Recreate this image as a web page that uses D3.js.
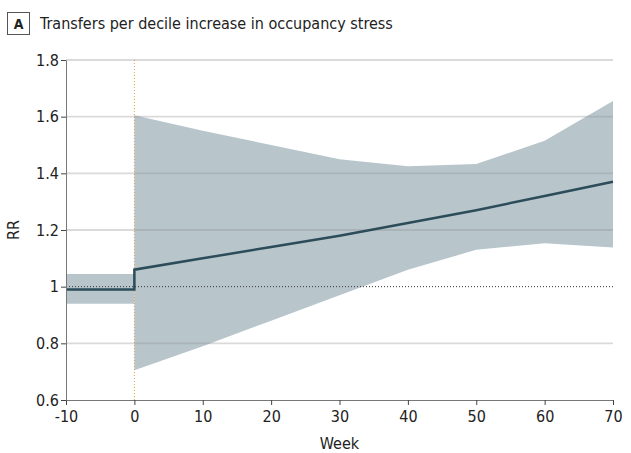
<!DOCTYPE html>
<html>
<head>
<meta charset="utf-8">
<script src="https://cdn.jsdelivr.net/npm/d3@7"></script>
<style>
  body { margin: 0; background: #fff; }
  text { font-family: "DejaVu Sans Condensed", "Open Sans", sans-serif; fill: #222; }
</style>
</head>
<body>
<div id="chart"></div>
<script>
// data
var preWeeks = [-10, 0];
var preRR = [0.99, 0.99];
var preLower = [0.94, 0.94];
var preUpper = [1.045, 1.045];

var postWeeks = [0, 10, 20, 30, 40, 50, 60, 70];
var postRR = [1.06, 1.10, 1.14, 1.18, 1.225, 1.27, 1.32, 1.37];
var postLower = [0.705, 0.79, 0.88, 0.97, 1.06, 1.13, 1.153, 1.138];
var postUpper = [1.605, 1.55, 1.50, 1.45, 1.425, 1.433, 1.515, 1.655];

var xTicks = [-10, 0, 10, 20, 30, 40, 50, 60, 70];
var yTicks = [0.6, 0.8, 1.0, 1.2, 1.4, 1.6, 1.8];
var yTickLabels = ["0.6", "0.8", "1", "1.2", "1.4", "1.6", "1.8"];

var svgWidth = 631, svgHeight = 453;
var margin = {top: 60, right: 18, bottom: 53, left: 66};
var width = svgWidth - margin.left - margin.right;
var height = svgHeight - margin.top - margin.bottom;

var svg = d3.select("#chart").append("svg")
    .attr("width", svgWidth)
    .attr("height", svgHeight);

// panel title
svg.append("rect")
    .attr("x", 7.5).attr("y", 12.5)
    .attr("width", 22).attr("height", 22)
    .attr("fill", "none").attr("stroke", "#555").attr("stroke-width", 1);
svg.append("text")
    .attr("x", 18.5).attr("y", 29)
    .attr("text-anchor", "middle")
    .style("font-size", "14px").style("font-weight", "bold")
    .text("A");
svg.append("text")
    .attr("x", 40).attr("y", 29)
    .style("font-size", "16px")
    .text("Transfers per decile increase in occupancy stress");

var g = svg.append("g")
    .attr("transform", "translate(" + margin.left + "," + margin.top + ")");

var x = d3.scaleLinear().domain([-10, 70]).range([0, width]);
var y = d3.scaleLinear().domain([0.6, 1.8]).range([height, 0]);

var pre = preWeeks.map(function(w, i) { return {w: w, rr: preRR[i], lo: preLower[i], hi: preUpper[i]}; });
var post = postWeeks.map(function(w, i) { return {w: w, rr: postRR[i], lo: postLower[i], hi: postUpper[i]}; });

var area = d3.area()
    .x(function(d) { return x(d.w); })
    .y0(function(d) { return y(d.lo); })
    .y1(function(d) { return y(d.hi); });

g.append("path").datum(pre).attr("d", area).attr("fill", "#b8c6cc");
g.append("path").datum(post).attr("d", area).attr("fill", "#b8c6cc");

// gridlines
g.selectAll(".grid")
    .data(yTicks.filter(function(t) { return t > 0.6 && t !== 1.0; }))
    .enter().append("line")
    .attr("x1", 0).attr("x2", width)
    .attr("y1", function(d) { return y(d); })
    .attr("y2", function(d) { return y(d); })
    .attr("stroke", "#8c8c8c").attr("stroke-opacity", 0.32)
    .attr("stroke-width", 1.8);

// reference line at RR = 1
g.append("line")
    .attr("x1", 0).attr("x2", width)
    .attr("y1", y(1)).attr("y2", y(1))
    .attr("stroke", "#333").attr("stroke-width", 1)
    .attr("stroke-dasharray", "1,2");

// intervention line at week 0
g.append("line")
    .attr("x1", x(0)).attr("x2", x(0))
    .attr("y1", 0).attr("y2", height)
    .attr("stroke", "#e8a040").attr("stroke-width", 1)
    .attr("stroke-dasharray", "1,2");

// estimate line (pre, step, post)
var est = pre.concat(post);
var line = d3.line()
    .x(function(d) { return x(d.w); })
    .y(function(d) { return y(d.rr); });
g.append("path").datum(est)
    .attr("d", line)
    .attr("fill", "none")
    .attr("stroke", "#2b4c58")
    .attr("stroke-width", 2.5);

// axes
var xAxis = d3.axisBottom(x).tickValues(xTicks).tickSize(5).tickSizeOuter(0)
    .tickFormat(function(d) { return d < 0 ? "-" + Math.abs(d) : d; });
var yAxis = d3.axisLeft(y).tickValues(yTicks).tickSize(5).tickSizeOuter(0)
    .tickFormat(function(d, i) { return yTickLabels[i]; });

var gx = g.append("g").attr("transform", "translate(0," + height + ")").call(xAxis);
var gy = g.append("g").call(yAxis);

[gx, gy].forEach(function(ax) {
  ax.select(".domain").attr("stroke", "#777");
  ax.selectAll(".tick line").attr("stroke", "#444");
  ax.selectAll(".tick text")
      .style("font-size", "16px")
      .style("font-family", "'DejaVu Sans Condensed', sans-serif")
      .attr("fill", "#222");
});
gx.selectAll(".tick text").attr("dy", "0.9em");
gy.selectAll(".tick text").attr("x", -7);

// axis titles
svg.append("text")
    .attr("x", margin.left + width / 2)
    .attr("y", 449)
    .attr("text-anchor", "middle")
    .style("font-size", "16px")
    .text("Week");
svg.append("text")
    .attr("transform", "translate(19," + (margin.top + y(1.2)) + ") rotate(-90)")
    .attr("text-anchor", "middle")
    .style("font-size", "16px")
    .text("RR");
</script>
</body>
</html>
